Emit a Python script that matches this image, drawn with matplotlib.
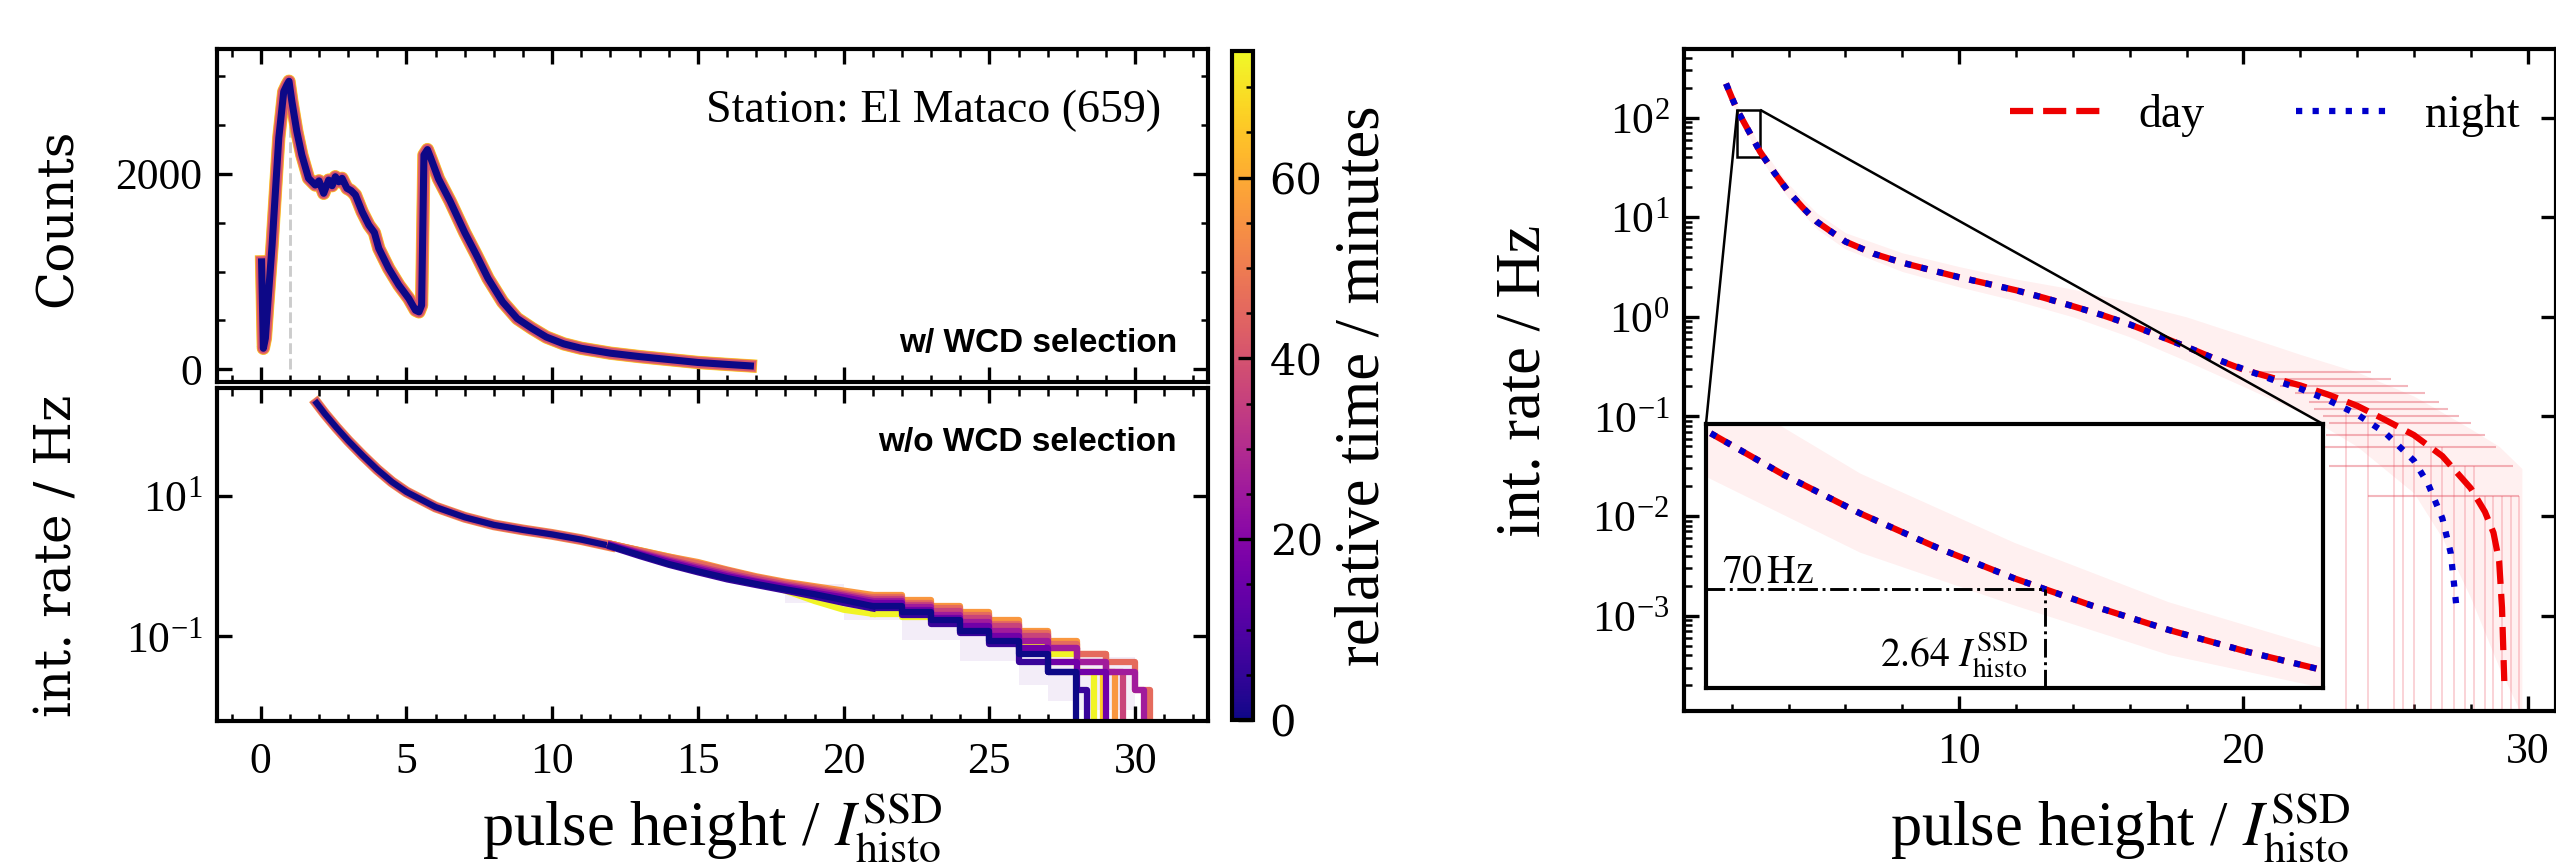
import numpy as np
import matplotlib
matplotlib.use("Agg")
import matplotlib.pyplot as plt
from matplotlib.ticker import MultipleLocator, FixedLocator, NullLocator, LogLocator, NullFormatter
from matplotlib.colors import Normalize
from matplotlib.cm import ScalarMappable
from mpl_toolkits.axes_grid1.inset_locator import mark_inset

plt.rcParams['font.family'] = 'serif'
plt.rcParams['font.serif'] = ['Liberation Serif', 'DejaVu Serif']
plt.rcParams['mathtext.fontset'] = 'stix'
plt.rcParams['axes.linewidth'] = 1.0
plt.rcParams['xtick.direction'] = 'in'
plt.rcParams['ytick.direction'] = 'in'
plt.rcParams['xtick.major.size'] = 3.5
plt.rcParams['ytick.major.size'] = 3.5
plt.rcParams['xtick.minor.size'] = 1.8
plt.rcParams['ytick.minor.size'] = 1.8
plt.rcParams['xtick.labelsize'] = 10.5
plt.rcParams['ytick.labelsize'] = 10.5

# ---- left top: charge histogram (counts)
H_X = [0.03, 0.09, 0.16, 0.25, 0.39, 0.5, 0.62, 0.79, 0.9, 0.97, 1.07, 1.24, 1.41,
       1.64, 1.87, 2.0, 2.16, 2.33, 2.45, 2.56, 2.68, 2.79, 2.96, 3.1, 3.25, 3.48,
       3.71, 3.9, 4.05, 4.39, 4.74, 5.08, 5.31, 5.43, 5.52, 5.6, 5.72, 5.85, 6.1,
       6.5, 7.0, 7.4, 7.8, 8.3, 8.8, 9.3, 9.8, 10.4, 11.0, 12.0, 13.0, 14.0, 15.0,
       16.0, 16.8]
H_COUNTS = [1100, 215, 318, 700, 1272, 1800, 2370, 2844, 2913, 2950, 2741, 2434, 2195,
            1956, 1887, 1930, 1802, 1938, 1880, 1972, 1920, 1956, 1853, 1830, 1785, 1613,
            1477, 1400, 1238, 1033, 862, 725, 605, 588, 656, 2195, 2250, 2150, 1950,
            1720, 1400, 1170, 930, 690, 520, 420, 330, 260, 215, 165, 130, 100, 70,
            50, 35]
PEAK_X = 1.0
PEAK_COUNTS = 2900

# ---- left bottom: integrated rate, w/o WCD selection
L_HEAD_X = [1.92, 2.2, 2.6, 3.0, 3.5, 4.0, 4.5, 5.0, 6.0, 7.0, 8.0, 9.0, 10.0, 11.0, 12.0]
L_HEAD = [213, 150, 95, 62, 38, 24, 16, 11.5, 7.0, 5.0, 3.9, 3.3, 2.85, 2.4, 1.95]
L_TAIL_X = [12, 13, 14, 15, 16, 17, 18, 19, 20, 21, 22, 23, 24, 25, 26, 27, 28, 29, 30]
L_TIMES = [73, 66, 56, 46, 36, 26, 16, 6, 0]
L_TAIL_END = [28.6, 28.9, 29.3, 30.5, 29.6, 30.3, 29.0, 28.35, 27.96]
L_TAILS = [
    [2.05, 1.7, 1.38, 1.1, 0.82, 0.6, 0.45, 0.32, 0.24, 0.21, 0.19, 0.16, 0.14, 0.11, 0.079, 0.056, 0.031],
    [2.1, 1.68, 1.32, 1.05, 0.82, 0.62, 0.5, 0.38, 0.3, 0.26, 0.22, 0.18, 0.15, 0.11, 0.069, 0.043, 0.031],
    [2.1, 1.7, 1.38, 1.15, 0.9, 0.72, 0.6, 0.52, 0.45, 0.39, 0.33, 0.27, 0.22, 0.17, 0.12, 0.087, 0.056, 0.031],
    [2.1, 1.68, 1.35, 1.1, 0.88, 0.7, 0.58, 0.5, 0.42, 0.36, 0.3, 0.25, 0.2, 0.15, 0.11, 0.079, 0.056, 0.043, 0.017],
    [2.0, 1.6, 1.25, 1.0, 0.8, 0.66, 0.55, 0.47, 0.4, 0.34, 0.28, 0.23, 0.18, 0.14, 0.1, 0.069, 0.043, 0.031],
    [2.05, 1.55, 1.2, 0.95, 0.76, 0.62, 0.52, 0.45, 0.38, 0.32, 0.26, 0.2, 0.16, 0.12, 0.087, 0.069, 0.043, 0.031, 0.017],
    [2.0, 1.5, 1.15, 0.9, 0.72, 0.6, 0.5, 0.42, 0.36, 0.3, 0.24, 0.18, 0.14, 0.1, 0.069, 0.043, 0.031],
    [1.9, 1.4, 1.05, 0.82, 0.65, 0.54, 0.45, 0.37, 0.3, 0.25, 0.2, 0.15, 0.11, 0.079, 0.043, 0.031, 0.017],
    [1.95, 1.45, 1.08, 0.85, 0.68, 0.56, 0.47, 0.4, 0.33, 0.27, 0.22, 0.17, 0.12, 0.087, 0.056, 0.031],
]
L_BAND_X = [18, 20, 22, 24, 26, 27, 28, 29, 30]
L_BAND_LO = [0.3, 0.17, 0.09, 0.045, 0.02, 0.012, 0.009, 0.009, 0.009]
L_BAND_HI = [0.55, 0.4, 0.28, 0.18, 0.11, 0.08, 0.06, 0.05, 0.05]
T_MAX = 74

# ---- right: day / night mean integrated rate
R_HEAD_X = [1.8, 2.0, 2.2, 2.3, 2.4, 2.5, 2.6, 2.7, 2.8, 2.9, 3.0, 3.5, 4.0, 4.5, 5.0,
            6.0, 7.0, 8.0, 9.0, 10, 11, 12, 13, 14, 15, 16, 17, 18, 19]
R_HEAD = [220, 160, 118, 104.7, 92.9, 82.5, 73.2, 65, 57.6, 51.1, 45.4, 28, 18, 12.5, 9,
          5.7, 4.3, 3.5, 2.95, 2.5, 2.15, 1.85, 1.55, 1.28, 1.05, 0.84, 0.65, 0.5, 0.38]
DAY_TAIL_X = [20, 21, 22, 23, 24, 25, 26, 27, 28, 28.5, 28.8, 29.0, 29.1, 29.18]
DAY_TAIL = [0.295, 0.245, 0.205, 0.165, 0.128, 0.092, 0.065, 0.040, 0.019, 0.011, 0.0068, 0.0035, 0.0012, 0.00022]
NIGHT_TAIL_X = [20, 21, 22, 23, 24, 25, 26, 26.5, 27, 27.3, 27.5]
NIGHT_TAIL = [0.30, 0.235, 0.19, 0.145, 0.105, 0.068, 0.036, 0.021, 0.0095, 0.0042, 0.0012]
R_BAND_X = [1.8, 2.2, 2.4, 2.6, 2.8, 3.0, 3.5, 4, 5, 6, 8, 10, 12, 14, 16, 18, 20, 22, 24, 26, 27, 28, 29, 29.8]
R_BAND_LO = [195, 104, 81, 65, 50, 40, 24, 15.5, 7.6, 4.8, 2.85, 2.0, 1.45, 1.0, 0.63, 0.36, 0.2, 0.11, 0.05, 0.017, 0.006, 0.0015, 0.0003, 0.0001]
R_BAND_HI = [245, 133, 105, 84, 66, 52, 33, 21.5, 11, 7.0, 4.4, 3.2, 2.4, 1.9, 1.4, 1.0, 0.65, 0.42, 0.28, 0.16, 0.11, 0.075, 0.05, 0.03]
R_STEP_LEVEL = [0.28, 0.24, 0.2, 0.17, 0.14, 0.12, 0.1, 0.085, 0.065, 0.049, 0.032, 0.016]
R_STEP_X0 = [20.2, 20.8, 21.3, 21.8, 22.3, 22.5, 22.8, 23.0, 22.9, 22.6, 23.0, 24.4]
R_STEP_X1 = [24.5, 25.2, 25.8, 26.4, 26.9, 27.2, 27.6, 28.0, 28.5, 28.9, 29.5, 29.7]
R_DROP_X = [23.6, 24.4, 25.3, 25.6, 26.0, 26.6, 27.0, 27.4, 27.8, 28.1, 28.5, 28.8, 29.1, 29.4, 29.7]
R_DROP_TOP = [0.12, 0.1, 0.085, 0.065, 0.065, 0.049, 0.049, 0.032, 0.032, 0.032, 0.016, 0.016, 0.016, 0.016, 0.016]
THR_X = 2.64
THR_RATE = 70

cmap = plt.get_cmap('plasma')
norm = Normalize(0, T_MAX)

fig = plt.figure(figsize=(8.52, 2.88), dpi=300)
W, H = 2556, 864

def box(x0, y0, x1, y1):
    return [x0 / W, 1 - y1 / H, (x1 - x0) / W, (y1 - y0) / H]

ax1 = fig.add_axes(box(217, 49, 1208, 382))
ax2 = fig.add_axes(box(217, 388, 1208, 721), sharex=ax1)
cax = fig.add_axes(box(1232, 51, 1253, 720))
ax3 = fig.add_axes(box(1684, 49, 2556, 711))

# top left histogram
ax1.vlines(PEAK_X, 0, PEAK_COUNTS, colors='#cccccc', linestyles='--', lw=0.7, zorder=1)
for c, lw in [(0.92, 3.2), (0.72, 3.0), (0.55, 2.6), (0.0, 1.7)]:
    ax1.plot(H_X, H_COUNTS, color=cmap(c), lw=lw, solid_joinstyle='round')
ax1.set_ylim(-130, 3280)
ax1.yaxis.set_major_locator(MultipleLocator(2000))
ax1.yaxis.set_minor_locator(MultipleLocator(500))
ax1.text(0.9526, 0.877, 'Station: El Mataco (659)', transform=ax1.transAxes,
         ha='right', va='top', fontsize=11)
ax1.text(0.9687, 0.09, 'w/ WCD selection', transform=ax1.transAxes, ha='right',
         va='baseline', fontsize=8, fontweight='bold', family='Liberation Sans')
plt.setp(ax1.get_xticklabels(), visible=False)

# bottom left integrated rate
ax2.fill_between(L_BAND_X, L_BAND_LO, L_BAND_HI, step='post', color=cmap(0.15), alpha=0.07, lw=0)
for c, lw in [(0.72, 2.6), (0.55, 2.2), (0.0, 1.5)]:
    ax2.plot(L_HEAD_X, L_HEAD, color=cmap(c), lw=lw)
k = L_TAIL_X.index(21)
for t, end, vals in zip(L_TIMES, L_TAIL_END, L_TAILS):
    col = cmap(norm(t))
    ax2.plot(L_TAIL_X[:k + 1], vals[:k + 1], color=col, lw=1.5)
    xs = L_TAIL_X[k:len(vals)] + [end]
    ys = vals[k:] + [1e-4]
    ax2.plot(xs, ys, drawstyle='steps-post', color=col, lw=1.5)
ax2.set_yscale('log')
ax2.set_ylim(0.0062, 350)
ax2.yaxis.set_major_locator(FixedLocator([10, 0.1]))
ax2.yaxis.set_minor_locator(NullLocator())
ax2.text(0.9687, 0.883, 'w/o WCD selection', transform=ax2.transAxes, ha='right',
         va='top', fontsize=8, fontweight='bold', family='Liberation Sans')
ax2.set_xlim(-1.5, 32.5)
ax2.xaxis.set_major_locator(MultipleLocator(5))
ax2.xaxis.set_minor_locator(MultipleLocator(1))

for a in (ax1, ax2):
    a.tick_params(which='both', top=True, right=True)
    a.tick_params(axis='x', pad=5)

# colorbar
cb = fig.colorbar(ScalarMappable(norm=norm, cmap=cmap), cax=cax)
cb.outline.set_linewidth(1.0)
cax.yaxis.set_major_locator(FixedLocator([0, 20, 40, 60]))
cax.yaxis.set_minor_locator(MultipleLocator(5))
cax.set_yticklabels(['0', '20', '40', '60'], fontfamily='DejaVu Serif', fontsize=10)
cax.tick_params(which='both', direction='in', right=True, left=False, pad=4)

# right panel
ax3.fill_between(R_BAND_X, R_BAND_LO, R_BAND_HI, color='red', alpha=0.06, lw=0)
ax3.hlines(R_STEP_LEVEL, R_STEP_X0, R_STEP_X1, colors='#dd3344', lw=0.5, alpha=0.35)
ax3.vlines(R_DROP_X, 1e-5, R_DROP_TOP, colors='#ee5566', lw=0.4, alpha=0.3)
day_x = R_HEAD_X + DAY_TAIL_X
day_y = R_HEAD + DAY_TAIL
night_x = R_HEAD_X + NIGHT_TAIL_X
night_y = R_HEAD + NIGHT_TAIL
ax3.plot(day_x, day_y, color='#ee0000', ls='--', lw=1.5, label='day')
ax3.plot(night_x, night_y, color='#0000cc', ls=':', lw=1.5, label='night')
ax3.set_yscale('log')
ax3.set_ylim(1.1e-4, 490)
ax3.set_xlim(0.32, 31.0)
ax3.xaxis.set_major_locator(MultipleLocator(10))
ax3.xaxis.set_minor_locator(MultipleLocator(2))
ax3.yaxis.set_major_locator(LogLocator(base=10, numticks=20))
ax3.yaxis.set_minor_locator(LogLocator(base=10, subs=np.arange(2, 10), numticks=20))
ax3.yaxis.set_minor_formatter(NullFormatter())
ax3.tick_params(which='both', top=True, right=True)
ax3.tick_params(which='minor', right=False)
ax3.tick_params(axis='x', pad=5)
ax3.legend(loc='upper right', bbox_to_anchor=(0.979, 0.96), ncol=2, frameon=False,
           fontsize=11, handlelength=2.0, handletextpad=0.8, columnspacing=2.0,
           borderaxespad=0)

# inset
axins = fig.add_axes(box(1706, 424, 2323, 688))
axins.fill_between(R_BAND_X, R_BAND_LO, R_BAND_HI, color='red', alpha=0.06, lw=0)
axins.plot(day_x, day_y, color='#ee0000', ls='--', lw=1.5)
axins.plot(night_x, night_y, color='#0000cc', ls=':', lw=1.5)
axins.set_xlim(2.2, 3.0)
axins.set_ylim(40, 120)
axins.hlines(THR_RATE, 2.2, THR_X, colors='k', linestyles='-.', lw=0.7)
axins.vlines(THR_X, 40, THR_RATE, colors='k', linestyles='-.', lw=0.7)
axins.text(0.026, 0.40, r'$70\,\mathrm{Hz}$', transform=axins.transAxes, fontsize=9.5,
           ha='left', va='baseline')
axins.text(0.523, 0.08, r'$2.64\ I_{\mathrm{histo}}^{\mathrm{SSD}}$', transform=axins.transAxes,
           fontsize=9.5, ha='right', va='baseline')
axins.set_xticks([])
axins.set_yticks([])
axins.set_facecolor('white')
mark_inset(ax3, axins, loc1=1, loc2=2, fc='none', ec='k', lw=0.6)

# axis labels
xl = r'pulse height / $I_{\mathrm{histo}}^{\mathrm{SSD}}$'
fig.text(712 / W, 1 - 845 / H, xl, ha='center', va='baseline', fontsize=15)
fig.text(2120 / W, 1 - 845 / H, xl, ha='center', va='baseline', fontsize=15)
fig.text(58 / W, 1 - 218 / H, 'Counts', rotation=90, ha='center', va='center',
         fontsize=12, family='DejaVu Serif')
fig.text(58 / W, 1 - 556 / H, 'int. rate / Hz', rotation=90, ha='center', va='center',
         fontsize=12, family='DejaVu Serif')
fig.text(1364 / W, 1 - 386 / H, 'relative time / minutes', rotation=90, ha='center',
         va='center', fontsize=15)
fig.text(1525 / W, 1 - 381 / H, 'int. rate / Hz', rotation=90, ha='center',
         va='center', fontsize=15)

fig.savefig('out.png', dpi=300)
